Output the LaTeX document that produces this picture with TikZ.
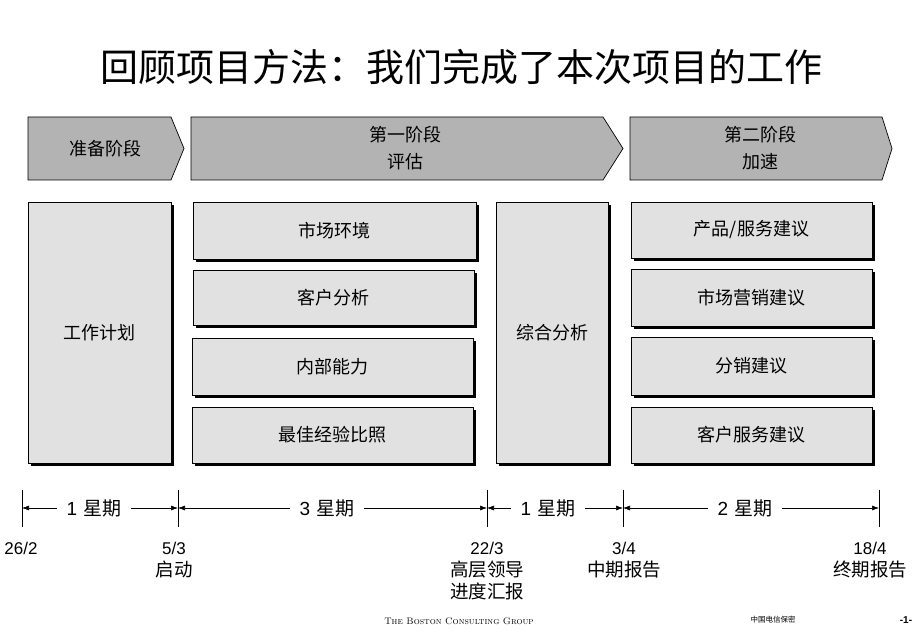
\documentclass[tikz,border=0pt]{standalone}
\usepackage{fontspec}
\newfontfamily\cjk{Noto Sans CJK SC}
\newfontfamily\arial{Liberation Sans}
\usepackage{tikz}
\usetikzlibrary{arrows.meta,shadows}

\definecolor{phasegrey}{RGB}{179,179,179}
\definecolor{boxgrey}{RGB}{225,225,225}

\tikzset{
	chev/.style={draw=black,line width=0.7pt,fill=phasegrey},
	phasetext/.style={align=center,font=\cjk\fontsize{18}{27}\selectfont},
	task/.style={draw=black,line width=0.7pt,fill=boxgrey,inner sep=0pt,
		font=\cjk\fontsize{18}{22}\selectfont,
		drop shadow={shadow xshift=3pt,shadow yshift=-3pt,fill=black,opacity=1}},
	span/.style={inner sep=10pt,font=\cjk\fontsize{19}{22}\selectfont},
	dur/.style={-{Latex[length=7pt,width=5pt]},line width=0.6pt},
	datelbl/.style={anchor=north,inner sep=0pt,align=center,font=\cjk\fontsize{18.5}{22}\selectfont}
}
\newcommand{\wk}[1]{{\arial #1}\hspace{6pt}星期}

\begin{document}
\begin{tikzpicture}[x=1pt,y=-1pt]
		\useasboundingbox[fill=white] (0,0) rectangle (920,636);

		\node[font=\cjk\fontsize{38}{40}\selectfont] (ttl) at (461,67) {回顾项目方法：我们完成了本次项目的工作};

		% phases
		\draw[chev] (28,117) -- (171,117) -- (184,148.5) -- (171,180) -- (28,180) -- cycle;
		\draw[chev] (191,117) -- (603,117) -- (623,148.5) -- (603,180) -- (191,180) -- cycle;
		\draw[chev] (630,117) -- (882,117) -- (892,148.5) -- (882,180) -- (630,180) -- cycle;
		\node[phasetext] (prep) at (105,148.5) {准备阶段};
		\node[phasetext] (ph1) at (405,148.5) {第一阶段\\评估};
		\node[phasetext] (ph2) at (760,148.5) {第二阶段\\加速};

		% work boxes
		\node[task,minimum width=143,minimum height=261] (plan) at (99.5,332.5) {工作计划};
		\node[task,minimum width=283,minimum height=57] (env) at (334.5,230.5) {市场环境};
		\node[task,minimum width=281,minimum height=55] (cust) at (333.5,297.5) {客户分析};
		\node[task,minimum width=281,minimum height=57] (intl) at (332.5,366.5) {内部能力};
		\node[task,minimum width=281,minimum height=56] (best) at (332.5,435) {最佳经验比照};
		\node[task,minimum width=112,minimum height=261] (synth) at (552,332.5) {综合分析};
		\node[task,minimum width=241,minimum height=56] (prod) at (751.5,230) {产品/服务建议};
		\node[task,minimum width=241,minimum height=57] (mktg) at (751.5,297.5) {市场营销建议};
		\node[task,minimum width=241,minimum height=58] (dist) at (751.5,366) {分销建议};
		\node[task,minimum width=241,minimum height=56] (serv) at (751.5,435) {客户服务建议};

		% timeline
		\foreach \x/\n in {22/0,178/1,487/2,623/3,879/4}{
			\draw[line width=0.7pt] (\x,490) -- (\x,527);
			\coordinate (t\n) at (\x,508);
		}
		\node[span] (w1) at (94,508) {\wk{1}};
		\node[span] (w2) at (327,508) {\wk{3}};
		\node[span] (w3) at (548,508) {\wk{1}};
		\node[span] (w4) at (745,508) {\wk{2}};
		\draw[dur] (w1.west) -- (t0);
		\draw[dur] (w1.east) -- (t1);
		\draw[dur] (w2.west) -- (t1);
		\draw[dur] (w2.east) -- (t2);
		\draw[dur] (w3.west) -- (t2);
		\draw[dur] (w3.east) -- (t3);
		\draw[dur] (w4.west) -- (t3);
		\draw[dur] (w4.east) -- (t4);

		\node[datelbl] (d0) at (21,542) {{\arial\fontsize{17}{22}\selectfont 26/2}};
		\node[datelbl] (d1) at (174,542) {{\arial\fontsize{17}{22}\selectfont 5/3}\\启动};
		\node[datelbl] (d2) at (487,542) {{\arial\fontsize{17}{22}\selectfont 22/3}\\高层领导\\进度汇报};
		\node[datelbl] (d3) at (624,542) {{\arial\fontsize{17}{22}\selectfont 3/4}\\中期报告};
		\node[datelbl] (d4) at (870,542) {{\arial\fontsize{17}{22}\selectfont 18/4}\\终期报告};

		% footer
		\node[font=\rmfamily\scshape\fontsize{9.5}{11}\selectfont] (bcg) at (459,621) {The Boston Consulting Group};
		\node[font=\cjk\fontsize{7.5}{9}\selectfont] (conf) at (773,620) {中国电信保密};
		\node[font=\arial\bfseries\fontsize{10}{12}\selectfont] (pg) at (906,620) {-1-};
	\end{tikzpicture}
\end{document}
